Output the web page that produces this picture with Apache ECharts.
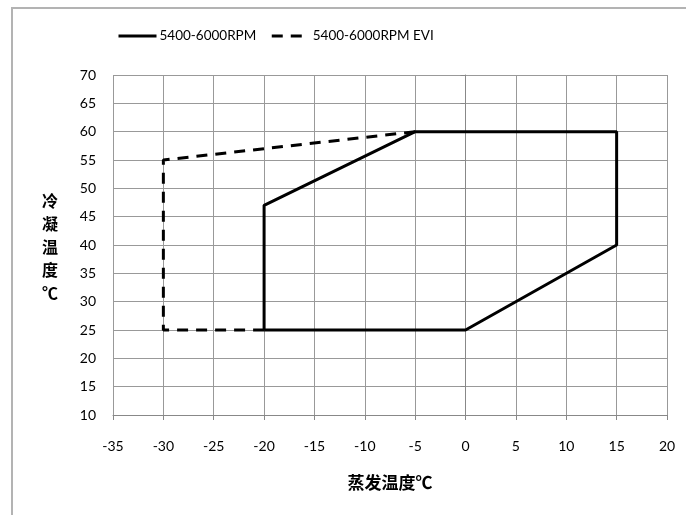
<!DOCTYPE html>
<html><head><meta charset="utf-8">
<script src="https://cdn.jsdelivr.net/npm/echarts@6/dist/echarts.min.js"></script>
<style>html,body{margin:0;padding:0;background:#fff}#c{width:686px;height:515px}</style>
</head><body><div id="c"></div>
<script>
const seriesNames = ['5400-6000RPM', '5400-6000RPM EVI'];
const solidX = [-20, 0, 15, 15, -5, -20, -20];
const solidY = [25, 25, 40, 60, 60, 47, 25];
const dashX = [-20, -30, -30, -5];
const dashY = [25, 25, 55, 60];
const xTitle = '蒸发温度℃';
const yTitle = '冷\n凝\n温\n度\n℃';

const font = 'Lato, "Open Sans", sans-serif';
const chart = echarts.init(document.getElementById('c'));
chart.setOption({
  animation: false,
  backgroundColor: '#fff',
  graphic: [
    {type: 'rect', shape: {x: 12, y: 8, width: 700, height: 540}, style: {fill: 'none', stroke: '#b3b3b3', lineWidth: 2}, silent: true, z: -1},
    {type: 'text', x: 50, y: 189, style: {text: yTitle, font: 'bold 16px "Noto Sans CJK SC"', fill: '#000', lineHeight: 23, align: 'center', verticalAlign: 'top'}},
    {type: 'text', x: 390, y: 483, style: {text: xTitle, font: 'bold 17px "Noto Sans CJK SC"', fill: '#000', align: 'center', verticalAlign: 'middle'}}
  ],
  legend: {
    left: 117, top: 29, padding: 0,
    itemWidth: 38, itemHeight: 12, itemGap: 14,
    itemStyle: {opacity: 0},
    lineStyle: {width: 3},
    textStyle: {fontFamily: font, fontSize: 13.5, color: '#000', padding: [0, 0, 0, -2]},
    data: seriesNames
  },
  grid: {left: 113, right: 19, top: 75, bottom: 100},
  xAxis: {
    type: 'value', min: -35, max: 20, interval: 5,
    axisLine: {lineStyle: {color: '#888', width: 1}},
    axisTick: {show: true, length: 5, lineStyle: {color: '#888'}},
    axisLabel: {fontFamily: font, fontSize: 14, color: '#000', margin: 24},
    splitLine: {show: true, lineStyle: {color: '#999', width: 1}}
  },
  yAxis: {
    type: 'value', min: 10, max: 70, interval: 5,
    axisLine: {show: true, lineStyle: {color: '#888', width: 1}},
    axisTick: {show: true, length: 5, lineStyle: {color: '#888'}},
    axisLabel: {fontFamily: font, fontSize: 14, color: '#000', margin: 17},
    splitLine: {show: true, lineStyle: {color: '#999', width: 1}}
  },
  series: [
    {name: seriesNames[0], type: 'line', symbol: 'none', data: solidX.map((x, i) => [x, solidY[i]]),
     lineStyle: {color: '#000', width: 3, type: 'solid'}, itemStyle: {color: '#000'}},
    {name: seriesNames[1], type: 'line', symbol: 'none', data: dashX.map((x, i) => [x, dashY[i]]),
     lineStyle: {color: '#000', width: 3, type: [11, 8]}, itemStyle: {color: '#000'}}
  ]
});
</script></body></html>
